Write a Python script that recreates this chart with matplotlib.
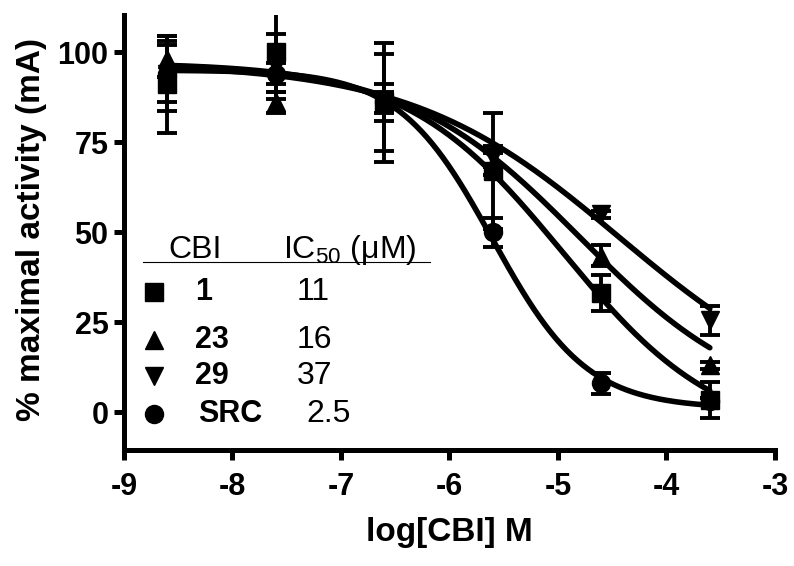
import numpy as np
import matplotlib
matplotlib.use("Agg")
import matplotlib.pyplot as plt

plt.rcParams['font.family'] = ['Liberation Sans', 'DejaVu Sans']
plt.rcParams['mathtext.fontset'] = 'custom'
plt.rcParams['mathtext.rm'] = 'Liberation Sans'
plt.rcParams['mathtext.it'] = 'Liberation Sans:italic'
plt.rcParams['mathtext.bf'] = 'Liberation Sans:bold'
plt.rcParams['axes.unicode_minus'] = False

# ---- data ----
log_conc = [-8.6, -7.6, -6.6, -5.6, -4.6, -3.6]

cbi1_mean = [91, 100, 86, 67, 33, 3.5]
cbi1_err = [13.5, 11, 16.5, 16, 5, 5]
cbi23_mean = [98, 86, 86, 69, 43.5, 13]
cbi23_err = [5, 3, 13.5, 3, 3, 1]
cbi29_mean = [94, 96, 86, 71, 55, 25.5]
cbi29_err = [8, 9, 5, 3, 1, 4]
src_mean = [94, 94, 86, 50, 8, 3]
src_err = [10.5, 3, 3, 4, 3, 1]

series_labels = ['1', '23', '29', 'SRC']
ic50_text = ['11', '16', '37', '2.5']
ic50_uM = [11, 16, 37, 2.5]
# fitted sigmoid parameters: top, bottom, hill slope
fit_top = [97, 97, 97, 95]
fit_bottom = [-8, 0, 0, 1]
fit_hill = [0.6, 0.54, 0.45, 1.0]

markers = ['s', '^', 'v', 'o']
means = [cbi1_mean, cbi23_mean, cbi29_mean, src_mean]
errs = [cbi1_err, cbi23_err, cbi29_err, src_err]

fig = plt.figure(figsize=(7.94, 5.66), dpi=100)
ax = fig.add_axes([0.156, 0.205, 0.82, 0.7685])

xfit = np.linspace(min(log_conc), max(log_conc), 300)
for m, e, mk, ic, top, bot, h in zip(means, errs, markers, ic50_uM,
                                      fit_top, fit_bottom, fit_hill):
    c = np.log10(ic * 1e-6)
    yfit = bot + (top - bot) / (1 + 10 ** (h * (xfit - c)))
    ax.plot(xfit, yfit, color='black', lw=4, solid_capstyle='round', zorder=2)
    ax.errorbar(log_conc, m, yerr=e, fmt=mk, color='black', ms=13,
                elinewidth=2.8, capsize=7.5, capthick=2.8, zorder=3)

ax.set_xlim(-9, -3)
ax.set_ylim(-10.5, 110.3)
ax.set_xticks(range(-9, -2))
ax.set_yticks([0, 25, 50, 75, 100])
for s in ['top', 'right']:
    ax.spines[s].set_visible(False)
for s in ['left', 'bottom']:
    ax.spines[s].set_linewidth(3.6)
ax.tick_params(direction='out', length=7, width=3.6, labelsize=22)
ax.tick_params(axis='x', pad=9)
ax.tick_params(axis='y', pad=4)
for lab in ax.get_xticklabels() + ax.get_yticklabels():
    lab.set_fontweight('bold')
ax.set_xlabel('log[CBI] M', fontsize=24, fontweight='bold')
ax.set_ylabel('% maximal activity (mA)', fontsize=24, fontweight='bold')
ax.xaxis.set_label_coords(0.5, -0.155)
ax.yaxis.set_label_coords(-0.118, 0.506)

# ---- in-plot key table ----
tr = ax.transAxes
ax.text(0.0676, 0.46, 'CBI', transform=tr, fontsize=23, va='center', ha='left')
ax.text(0.244, 0.46, 'IC$_{50}$ (\u03bcM)', transform=tr, fontsize=23, va='center', ha='left')
ax.plot([0.029, 0.47], [0.432, 0.432], transform=tr, color='black', lw=0.8)
row_y = [0.363, 0.252, 0.17, 0.083]
lab_x = [0.109, 0.109, 0.109, 0.114]
val_x = [0.266, 0.266, 0.266, 0.281]
for mk, lab, val, y, lx, vx in zip(markers, series_labels, ic50_text, row_y, lab_x, val_x):
    ax.plot([0.046], [y], marker=mk, color='black', ms=13, transform=tr, clip_on=False)
    ax.text(lx, y, lab, transform=tr, fontsize=22, fontweight='bold', va='center', ha='left')
    ax.text(vx, y, val, transform=tr, fontsize=23, va='center', ha='left')

fig.savefig('out.png', dpi=100)
